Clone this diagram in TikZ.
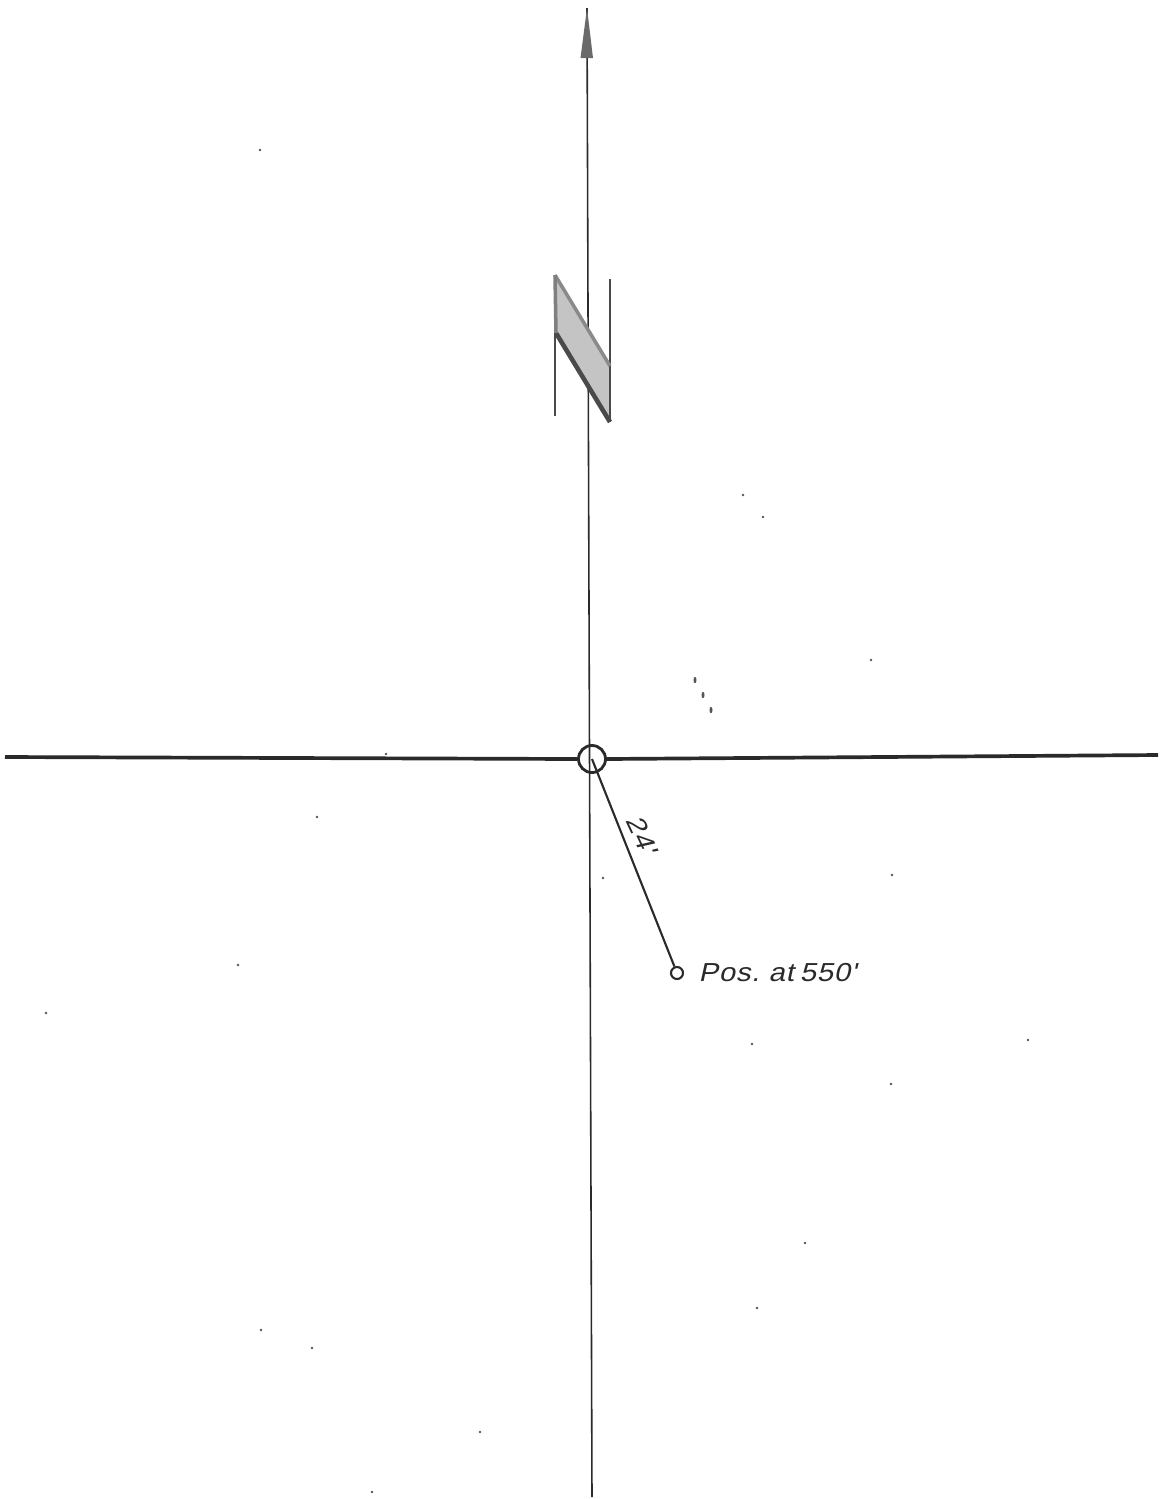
\documentclass[tikz,border=0pt]{standalone}
\usepackage{fontspec}
\usepackage{xcolor}
\usepackage{tikz}
\newfontfamily\plotfont[FakeStretch=1.12,FakeSlant=0.22,LetterSpace=3,WordSpace=0.7]{Liberation Sans}
\definecolor{INK}{HTML}{2A2A2A}
\definecolor{SPECK}{HTML}{555555}
\definecolor{TONE}{HTML}{C4C4C4}

\begin{document}
\begin{tikzpicture}[
    x=0.01cm, y=-0.01cm,
    font=\plotfont\fontsize{7.4pt}{9pt}\selectfont,
    ring/.style={circle, draw=INK, inner sep=0pt},
    axisthin/.style={draw=INK, line width=0.45pt},
    axisthick/.style={draw=INK, line width=1.05pt},
    radial/.style={draw=INK, line width=0.6pt},
    stem/.style={draw=INK!85, line width=0.7pt},
    lbl/.style={text=INK, inner sep=0pt},
  ]
  \useasboundingbox (0,0) rectangle (1162,1499);

  % axes
  \coordinate (north) at (587,8);
  \coordinate (south) at (592,1497);
  \coordinate (west) at (5,757);
  \coordinate (east) at (1158,755);
  \node[ring, line width=0.8pt, minimum size=0.27cm] (origin) at (592,759) {};
  \draw[axisthin] (north) -- (south);
  \draw[axisthick] (west) -- (origin.west);
  \draw[axisthick] (origin.east) -- (east);
  \fill[INK!70] (north) -- (580.5,58) -- (593,58) -- cycle;

  % north letter
  \coordinate (nA) at (555,275);
  \coordinate (nB) at (610,366);
  \coordinate (nC) at (610,422);
  \coordinate (nD) at (556,333);
  \fill[TONE] (nA) -- (nB) -- (nC) -- (nD) -- cycle;
  \draw[stem] (555,333) -- (555,416);
  \draw[stem] (610,279) -- (610,422);
  \draw[draw=INK!55, line width=1pt] (nA) -- (nB);
  \draw[draw=INK!85, line width=1.3pt] (nD) -- (nC);
  \draw[draw=INK!60, line width=1pt] (nA) -- (nD);

  % position
  \node[ring, line width=0.6pt, minimum size=0.12cm] (pos) at (677,973) {};
  \draw[radial] (origin.center) -- (pos);
  \node[lbl, anchor=west] (poslbl) at (698,973) {Pos. at 550'};
  \node[lbl, rotate=-65] (dist) at (642,835) {24'};

  % marks on the sheet
  \foreach \x/\y in {695/680, 703/695, 711/710} {
    \fill[SPECK] (\x,\y) ellipse [x radius=1.5, y radius=3.2];
  }
  \foreach \x/\y in {386/754, 260/150, 317/817, 603/878, 46/1013, 261/1330, 312/1348, 805/1243, 757/1308, 480/1432, 372/1492, 871/660, 763/517, 743/495, 892/875, 752/1044, 891/1084, 1028/1040, 238/965} {
    \fill[SPECK] (\x,\y) circle (1.3);
  }
\end{tikzpicture}
\end{document}
